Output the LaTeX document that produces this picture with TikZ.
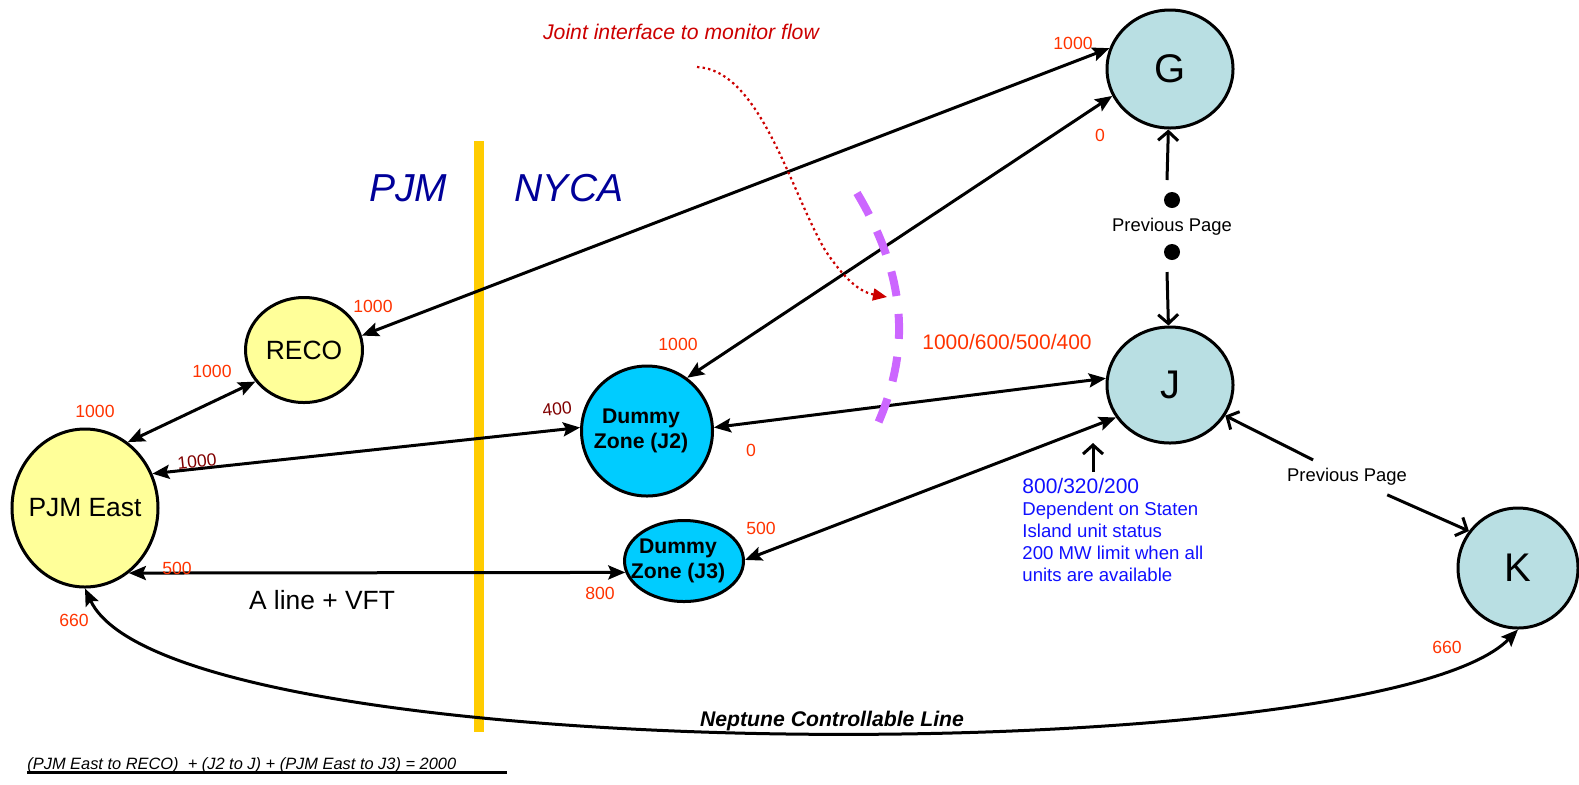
\documentclass[tikz,border=0pt]{standalone}
\usepackage{fontspec}
\setmainfont{Liberation Sans}
\usetikzlibrary{arrows.meta,shapes.geometric,positioning,calc}
\definecolor{pjmyellow}{HTML}{FFFF99}
\definecolor{dummycyan}{HTML}{00CCFF}
\definecolor{nyteal}{HTML}{B9DFE3}
\definecolor{limred}{HTML}{FF3300}
\definecolor{limdark}{HTML}{800000}
\definecolor{areablue}{HTML}{000099}
\definecolor{noteblue}{HTML}{1010FF}
\definecolor{monitorred}{HTML}{CC0000}
\definecolor{seamviolet}{HTML}{CC66FF}
\definecolor{bargold}{HTML}{FFCC00}
\tikzset{zone/.style={ % Sets the properties for each zone
            ellipse, draw, line width=1.5pt, inner sep=0pt},
        bigname/.style={font=\fontsize{13.2}{15}\selectfont},
        dummyname/.style={align=center, font=\bfseries\fontsize{10.6}{12.5}\selectfont},
        letter/.style={font=\fontsize{20}{22}\selectfont},
        area/.style={text=areablue, font=\itshape\fontsize{19.5}{22}\selectfont},
        lim/.style={text=limred, font=\fontsize{8.8}{10}\selectfont, inner sep=0pt},
        limdarklabel/.style={text=limdark, font=\fontsize{8.8}{10}\selectfont, inner sep=0pt},
        limbig/.style={text=limred, font=\fontsize{10.5}{12}\selectfont, inner sep=0pt},
        pp/.style={font=\fontsize{9.2}{11}\selectfont, inner sep=0pt},
        dot/.style={circle, fill=black, minimum size=8pt, inner sep=0pt},
        link/.style={ % two-way transfer limit
            draw, line width=1.5pt,
            {Stealth[length=8.5pt,width=7pt,inset=1.5pt]}-{Stealth[length=8.5pt,width=7pt,inset=1.5pt]}},
        pparrow/.style={draw, line width=1.5pt, -{Straight Barb[length=4.5pt,width=10pt]}},
        monitor/.style={draw=monitorred, line width=1.1pt, dash pattern=on 1.2pt off 1.6pt,
            -{Triangle[length=7pt,width=6pt,fill=monitorred]}},
        seam/.style={draw=seamviolet, line width=4pt, dash pattern=on 12.5pt off 9pt}
        }

\begin{document}
\begin{tikzpicture}[x=0.5pt, y=-0.5pt]
    \useasboundingbox (0,0) rectangle (1579,784);

    % PJM / NYCA border
    \fill[bargold] (474,141) rectangle (484,732);
    \node[area] (pjm) at (408,188) {PJM};
    \node[area] (nyca) at (569,188) {NYCA};

    % zones
    \node[zone, fill=pjmyellow, minimum width=73pt, minimum height=79pt,
        label={[bigname]center:PJM East}] (east) at (85,508) {};
    \node[zone, fill=pjmyellow, minimum width=58.5pt, minimum height=52.5pt,
        label={[bigname]center:RECO}] (reco) at (304,350) {};
    \node[zone, fill=dummycyan, minimum width=65.5pt, minimum height=65pt,
        label={[dummyname, xshift=-3pt]center:Dummy\\Zone (J2)}] (j2) at (647,431) {};
    \node[zone, fill=dummycyan, minimum width=59.5pt, minimum height=40.5pt,
        label={[dummyname, xshift=-3pt]center:Dummy\\Zone (J3)}] (j3) at (684,561) {};
    \node[zone, fill=nyteal, minimum width=63pt, minimum height=59pt, letter] (g) at (1170,69) {G};
    \node[zone, fill=nyteal, minimum width=63pt, minimum height=58pt, letter] (j) at (1170,385) {J};
    \node[zone, fill=nyteal, minimum width=60pt, minimum height=60pt, letter] (k) at (1518,568) {K};

    % transfer limits
    \draw[link] (reco.14) -- (g.161);
    \draw[link] (j2.53) -- (g.205);
    \draw[link] (east.57) -- (reco.213);
    \draw[link] (east.27) -- (j2.177);
    \draw[link] (j2.3) -- (j.174);
    \draw[link] (j3.1) -- (j.211);
    \draw[link] (east.304) -- (j3.191);
    \draw[link] (east.south) .. controls (170,772) and (1380,772) .. (k.south);

    \node[lim] (rgg) at (1073,43) {1000};
    \node[lim] (j2gg) at (1100,135) {0};
    \node[lim] (rgreco) at (373,306) {1000};
    \node[lim] (erreco) at (212,371) {1000};
    \node[lim] (ereast) at (95,411) {1000};
    \node[limdarklabel, rotate=6] (ej2east) at (197,461) {1000};
    \node[limdarklabel, rotate=6] (ej2j2) at (557,409) {400};
    \node[lim] (j2gj2) at (678,344) {1000};
    \node[lim] (jj2j2) at (751,450) {0};
    \node[limbig] (jj2j) at (1007,342) {1000/600/500/400};
    \node[lim] (jj3j3) at (761,528) {500};
    \node[lim] (ej3j3) at (600,593) {800};
    \node[lim] (ej3east) at (177,568) {500};
    \node[lim] (ekeast) at (74,620) {660};
    \node[lim] (ekk) at (1447,647) {660};
    \node[bigname] (aline) at (322,600) {A line + VFT};
    \node[font=\bfseries\itshape\fontsize{10.6}{12}\selectfont] (neptune) at (832,721) {Neptune Controllable Line};

    % joint interface
    \draw[seam] (857,193) .. controls (915,290) and (905,365) .. (875,430);
    \node[text=monitorred, font=\itshape\fontsize{10.6}{12}\selectfont] (joint) at (681,32) {Joint interface to monitor flow};
    \coordinate (jointstart) at (697,67);
    \coordinate (jointend) at (887,297);
    \draw[monitor] (jointstart) .. controls (760,70) and (790,190) .. (825,250)
        .. controls (845,280) and (860,292) .. (jointend);

    % links from the previous page
    \node[dot] (gjdot1) at (1172,200) {};
    \node[pp] (gjprev) at (1172,227) {Previous Page};
    \node[dot] (gjdot2) at (1172,252) {};
    \coordinate (gjup) at (1167,180);
    \coordinate (gjdown) at (1167,272);
    \draw[pparrow] (gjup) -- (g);
    \draw[pparrow] (gjdown) -- (j);

    \node[pp] (jkprev) at (1347,477) {Previous Page};
    \draw[pparrow, shorten <=19pt] (jkprev.center) -- (j.331);
    \draw[pparrow, shorten <=22pt] (jkprev.center) -- (k.143);

    % Staten Island note
    \coordinate (sitail) at (1093,472);
    \coordinate (sihead) at (1093,443);
    \draw[pparrow] (sitail) -- (sihead);
    \node[anchor=north west, align=left, text=noteblue, inner sep=0pt,
        font=\fontsize{9.3}{11}\selectfont] (sinote) at (1022,478)
        {{\fontsize{10.5}{12}\selectfont 800/320/200}\\Dependent on Staten\\Island unit status\\200 MW limit when all\\units are available};

    % sum constraint
    \node[anchor=base west, inner sep=0pt, font=\itshape\fontsize{8.2}{10}\selectfont] (sumrule) at (27,769)
        {(PJM East to RECO)\ \ + (J2 to J) + (PJM East to J3) = 2000};
    \draw[line width=1.2pt] ([yshift=-1.8pt]sumrule.base west) -- ++(480,0);
\end{tikzpicture}
\end{document}
